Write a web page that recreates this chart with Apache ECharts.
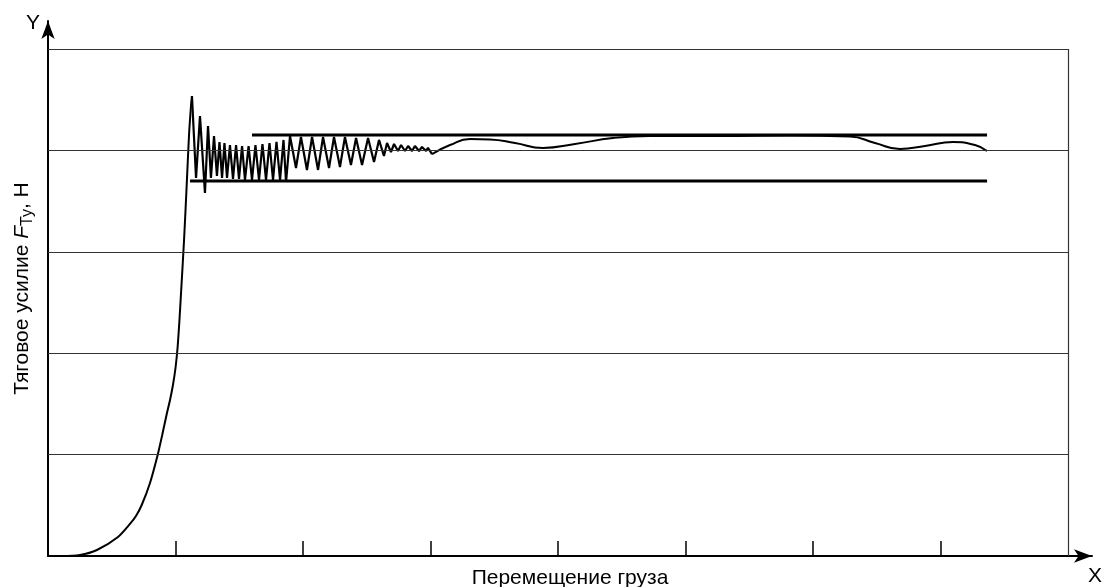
<!DOCTYPE html>
<html>
<head>
<meta charset="utf-8">
<title>Тяговое усилие</title>
<script src="https://cdn.jsdelivr.net/npm/echarts@6/dist/echarts.min.js"></script>
<style>
  html, body { margin: 0; padding: 0; background: #fff; }
  #main { width: 1104px; height: 587px; }
</style>
</head>
<body>
<div id="main"></div>
<script>
// разгон: плавный рост усилия до пика
const riseCurve = [
  [0, 0], [0.11, 0], [0.251, 0.01], [0.384, 0.059], [0.549, 0.187],
  [0.643, 0.316], [0.69, 0.394], [0.735, 0.503], [0.8, 0.72], [0.86, 0.996],
  [0.894, 1.183], [0.933, 1.41], [0.957, 1.538], [0.98, 1.686], [1.0, 1.854],
  [1.016, 2.051], [1.031, 2.327], [1.047, 2.673], [1.067, 3.116], [1.086, 3.609],
  [1.106, 4.152], [1.122, 4.448], [1.129, 4.536]
];
// колебания после пика
const oscillation = [
  [1.129, 4.536], [1.161, 3.728], [1.192, 4.339], [1.231, 3.58], [1.255, 4.241],
  [1.278, 3.728], [1.302, 4.142], [1.325, 3.748], [1.345, 4.083], [1.365, 3.728],
  [1.384, 4.073], [1.404, 3.728], [1.427, 4.053], [1.451, 3.718], [1.475, 4.053],
  [1.498, 3.718], [1.522, 4.043], [1.545, 3.708], [1.573, 4.043], [1.6, 3.708],
  [1.627, 4.053], [1.655, 3.708], [1.682, 4.063], [1.71, 3.708], [1.737, 4.073],
  [1.765, 3.708], [1.792, 4.083], [1.82, 3.708], [1.847, 4.103], [1.867, 3.688],
  [1.898, 4.142], [1.945, 3.826], [1.984, 4.132], [2.031, 3.807], [2.071, 4.132],
  [2.118, 3.807], [2.157, 4.132], [2.204, 3.826], [2.243, 4.132], [2.29, 3.836],
  [2.329, 4.132], [2.376, 3.856], [2.416, 4.122], [2.463, 3.856], [2.51, 4.122],
  [2.557, 3.886], [2.596, 4.103], [2.635, 3.945], [2.659, 4.073], [2.69, 3.984],
  [2.714, 4.063], [2.745, 3.994], [2.769, 4.053], [2.8, 3.994], [2.824, 4.043],
  [2.855, 3.994], [2.878, 4.043], [2.91, 3.994], [2.933, 4.034], [2.965, 3.994],
  [2.98, 4.024], [3.012, 3.964]
];
// установившееся движение
const steadyWave = [
  [3.012, 3.964], [3.153, 4.053], [3.31, 4.112], [3.467, 4.108], [3.663, 4.073],
  [3.882, 4.024], [4.133, 4.063], [4.431, 4.122], [4.722, 4.142], [5.271, 4.142],
  [5.82, 4.147], [6.29, 4.137], [6.486, 4.073], [6.682, 4.014], [6.878, 4.043],
  [7.098, 4.083], [7.271, 4.053], [7.365, 3.994]
];
// границы допуска
const upperLimit = [[1.6, 4.152], [7.365, 4.152]];
const lowerLimit = [[1.114, 3.698], [7.365, 3.698]];

const gridLevels = [1, 2, 3, 4, 5];
const xTicks = [1, 2, 3, 4, 5, 6, 7];
const xEnd = 8;

const FONT = 'Liberation Sans';

const frameLines = gridLevels.map(function (lv) {
  return [{ coord: [0, lv] }, { coord: [xEnd, lv] }];
});
frameLines.push([{ coord: [xEnd, 0] }, { coord: [xEnd, gridLevels[gridLevels.length - 1]] }]);

function curve(data, smooth, width) {
  return {
    type: 'line',
    data: data,
    showSymbol: false,
    smooth: smooth,
    lineStyle: { color: '#000', width: width },
    silent: true
  };
}

const option = {
  animation: false,
  backgroundColor: '#fff',
  title: [
    { text: 'Y', left: 21, top: 8, textStyle: { fontFamily: FONT, fontSize: 21, fontWeight: 'normal', color: '#000' } },
    { text: 'X', left: 1083, top: 561, textStyle: { fontFamily: FONT, fontSize: 21, fontWeight: 'normal', color: '#000' } }
  ],
  grid: { left: 48, right: 12, top: 21, bottom: 31, outerBoundsMode: 'none' },
  xAxis: {
    type: 'value',
    min: 0,
    max: 8.188,
    name: 'Перемещение груза',
    nameLocation: 'middle',
    nameGap: 12,
    nameTextStyle: { fontFamily: FONT, fontSize: 21, color: '#000' },
    axisLine: { show: true, symbol: ['none', 'arrow'], symbolSize: [10, 18], lineStyle: { color: '#000', width: 2 } },
    axisTick: { show: true, inside: true, length: 15, customValues: xTicks, lineStyle: { color: '#000', width: 1.5 } },
    axisLabel: { show: false },
    splitLine: { show: false }
  },
  yAxis: {
    type: 'value',
    min: 0,
    max: 5.276,
    name: '{n|Тяговое усилие }{f|F}{s|Ту}{n|, Н}',
    nameLocation: 'middle',
    nameRotate: 90,
    nameGap: 12,
    nameTextStyle: {
      color: '#000',
      rich: {
        n: { fontFamily: FONT, fontSize: 21, color: '#000' },
        f: { fontFamily: FONT, fontSize: 21, fontStyle: 'italic', color: '#000' },
        s: { fontFamily: FONT, fontSize: 16, color: '#000', padding: [11, 0, 0, 0] }
      }
    },
    axisLine: { show: true, symbol: ['none', 'arrow'], symbolSize: [10, 18], lineStyle: { color: '#000', width: 2 } },
    axisTick: { show: false },
    axisLabel: { show: false },
    splitLine: { show: false }
  },
  series: [
    {
      type: 'line',
      data: [],
      silent: true,
      markLine: {
        silent: true,
        symbol: ['none', 'none'],
        label: { show: false },
        lineStyle: { color: '#333', width: 1.2, type: 'solid' },
        data: frameLines
      }
    },
    curve(riseCurve, 0.25, 2),
    curve(oscillation, false, 2.2),
    curve(steadyWave, 0.5, 2),
    curve(upperLimit, false, 3),
    curve(lowerLimit, false, 3)
  ]
};

const myChart = echarts.init(document.getElementById('main'));
myChart.setOption(option);
</script>
</body>
</html>
